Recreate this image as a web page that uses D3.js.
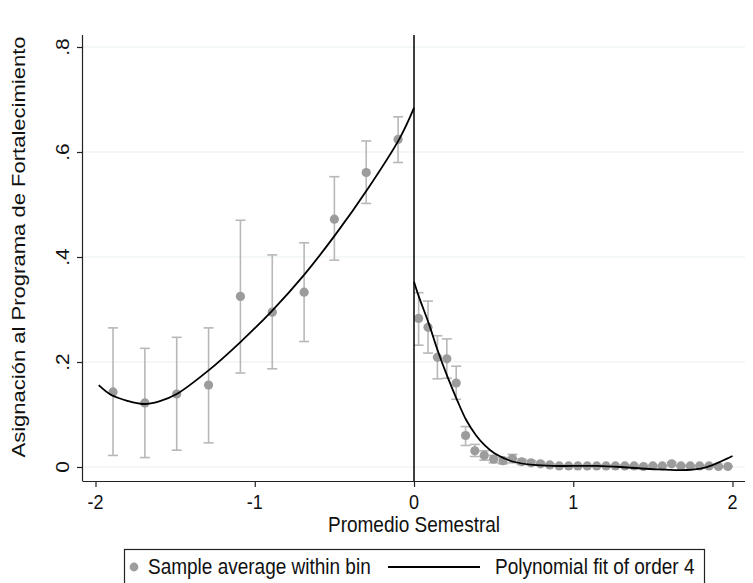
<!DOCTYPE html>
<html>
<head>
<meta charset="utf-8">
<script src="https://cdn.jsdelivr.net/npm/d3@7"></script>
<style>
  html, body { margin: 0; padding: 0; background: #fff; }
  svg { display: block; font-family: "Liberation Sans", Arial, sans-serif; }
</style>
</head>
<body>
<svg id="chart" width="753" height="583"></svg>
<script>
// ---------- data ----------
const xTicks = [-2, -1, 0, 1, 2];
const xTickLabels = ["-2", "-1", "0", "1", "2"];
const yTicks = [0, 0.2, 0.4, 0.6, 0.8];
const yTickLabels = ["0", ".2", ".4", ".6", ".8"];

// bin averages left of cutoff
const leftX  = [-1.89, -1.69, -1.49, -1.29, -1.09, -0.89, -0.69, -0.50, -0.30, -0.10];
const leftY  = [0.143, 0.122, 0.139, 0.156, 0.325, 0.295, 0.333, 0.472, 0.561, 0.624];
const leftLo = [0.022, 0.018, 0.032, 0.046, 0.179, 0.187, 0.239, 0.394, 0.502, 0.580];
const leftHi = [0.265, 0.226, 0.247, 0.265, 0.470, 0.404, 0.427, 0.553, 0.621, 0.667];

// bin averages right of cutoff
const rightX = [0.029, 0.088, 0.147, 0.206, 0.265, 0.324, 0.382, 0.441, 0.500, 0.559,
                0.618, 0.676, 0.735, 0.794, 0.853, 0.912, 0.971, 1.029, 1.088, 1.147,
                1.206, 1.265, 1.324, 1.382, 1.441, 1.500, 1.559, 1.618, 1.676, 1.735,
                1.794, 1.853, 1.912, 1.971];
const rightY = [0.283, 0.266, 0.209, 0.206, 0.160, 0.060, 0.031, 0.022, 0.015, 0.012,
                0.016, 0.010, 0.008, 0.006, 0.004, 0.002, 0.002, 0.002, 0.002, 0.002,
                0.002, 0.002, 0.002, 0.002, 0.001, 0.002, 0.002, 0.006, 0.002, 0.002,
                0.002, 0.002, 0.001, 0.001];
const rightLo = [0.232, 0.217, 0.168, 0.169, 0.129, 0.041, 0.020, 0.013, 0.008, 0.006,
                 0.008, 0.005, 0.004, 0.003, 0.002, 0.001, 0.001, 0.001, 0.001, 0.001,
                 0.001, 0.001, 0.001, 0.001, 0.000, 0.001, 0.001, 0.003, 0.001, 0.001,
                 0.001, 0.001, 0.000, 0.000];
const rightHi = [0.332, 0.316, 0.250, 0.244, 0.192, 0.077, 0.043, 0.031, 0.022, 0.018,
                 0.024, 0.015, 0.012, 0.009, 0.006, 0.003, 0.003, 0.003, 0.003, 0.003,
                 0.003, 0.003, 0.003, 0.003, 0.002, 0.003, 0.003, 0.009, 0.003, 0.003,
                 0.003, 0.003, 0.002, 0.002];

// polynomial fit (order 4)
const fitLeftX = [-1.98, -1.90, -1.80, -1.70, -1.60, -1.49, -1.29, -1.09, -0.89, -0.69, -0.49, -0.29, -0.09, 0.0];
const fitLeftY = [0.156, 0.137, 0.126, 0.120, 0.125, 0.139, 0.184, 0.238, 0.298, 0.366, 0.444, 0.530, 0.626, 0.684];
const fitRightX = [0.0, 0.03, 0.092, 0.151, 0.21, 0.27, 0.327, 0.388, 0.445, 0.505, 0.564, 0.625, 0.75, 0.87, 1.0, 1.15, 1.3, 1.5, 1.68, 1.8, 1.87, 1.93, 2.0];
const fitRightY = [0.353, 0.325, 0.274, 0.220, 0.172, 0.128, 0.090, 0.061, 0.041, 0.026, 0.017, 0.010, 0.004, 0.002, 0.002, 0.002, 0.000, -0.004, -0.006, -0.003, 0.003, 0.011, 0.021];

const xTitle = "Promedio Semestral";
const yTitle = "Asignación al Programa de Fortalecimiento";
const legendLabels = ["Sample average within bin", "Polynomial fit of order 4"];

// ---------- drawing ----------
const svg = d3.select("#chart");
const plotL = 83, plotR = 745, plotT = 35, plotB = 481;
const x = d3.scaleLinear().domain([-2, 2]).range([95.5, 732.5]);
const y = d3.scaleLinear().domain([0, 0.8]).range([467, 47]);
const stretch = 1.16;   // glyphs in the reference are taller than wide
const txtColor = "#111";

const dotColor = "#9c9c9c";
const ciColor = "#b8b8b8";

// text helpers (horizontal and rotated, with vertical stretch)
function hText(px, py, str, size, anchor) {
  const g = svg.append("g").attr("transform", `translate(${px},${py}) scale(1,${stretch})`);
  g.append("text").attr("x", 0).attr("y", 0).attr("text-anchor", anchor)
    .style("font-size", size + "px").attr("fill", txtColor).text(str);
}
function vText(px, py, str, size) {
  const g = svg.append("g").attr("transform", `translate(${px},${py}) scale(1,${stretch}) rotate(-90)`);
  g.append("text").attr("x", 0).attr("y", 0).attr("text-anchor", "middle")
    .style("font-size", size + "px").attr("fill", txtColor).text(str);
}

// gridlines
svg.append("g").selectAll("line").data(yTicks).join("line")
  .attr("x1", plotL).attr("x2", plotR)
  .attr("y1", d => y(d)).attr("y2", d => y(d))
  .attr("stroke", "#e9f0f2").attr("stroke-width", 1.2);

// axes (lines + ticks via d3 axes, labels placed with stretch)
const xAxis = d3.axisBottom(x).tickValues(xTicks).tickSize(6).tickFormat("");
const gx = svg.append("g").attr("transform", `translate(0,${plotB})`).call(xAxis);
gx.select(".domain").remove();
gx.append("line").attr("x1", plotL).attr("x2", plotR).attr("y1", 0.5).attr("y2", 0.5)
  .attr("stroke", "#222").attr("stroke-width", 1.2);
gx.selectAll(".tick line").attr("stroke", "#222").attr("stroke-width", 1.2);
xTicks.forEach((t, i) => hText(x(t), 509, xTickLabels[i], 18, "middle"));

const yAxis = d3.axisLeft(y).tickValues(yTicks).tickSize(6).tickFormat("");
const gy = svg.append("g").attr("transform", `translate(${plotL},0)`).call(yAxis);
gy.select(".domain").remove();
gy.append("line").attr("x1", -0.5).attr("x2", -0.5).attr("y1", plotT).attr("y2", plotB + 0.5)
  .attr("stroke", "#222").attr("stroke-width", 1.2);
gy.selectAll(".tick line").attr("stroke", "#222").attr("stroke-width", 1.2);
yTicks.forEach((t, i) => vText(69, y(t), yTickLabels[i], 18));

// error bars
function drawCI(xs, lo, hi) {
  const g = svg.append("g").attr("stroke", ciColor).attr("stroke-width", 1.6);
  const idx = d3.range(xs.length);
  g.selectAll("line.v").data(idx).join("line").attr("class", "v")
    .attr("x1", i => x(xs[i])).attr("x2", i => x(xs[i]))
    .attr("y1", i => y(lo[i])).attr("y2", i => y(hi[i]));
  g.selectAll("line.lo").data(idx).join("line").attr("class", "lo")
    .attr("x1", i => x(xs[i]) - 5).attr("x2", i => x(xs[i]) + 5)
    .attr("y1", i => y(lo[i])).attr("y2", i => y(lo[i]));
  g.selectAll("line.hi").data(idx).join("line").attr("class", "hi")
    .attr("x1", i => x(xs[i]) - 5).attr("x2", i => x(xs[i]) + 5)
    .attr("y1", i => y(hi[i])).attr("y2", i => y(hi[i]));
}
drawCI(leftX, leftLo, leftHi);
drawCI(rightX, rightLo, rightHi);

// dots
function drawDots(xs, ys) {
  svg.append("g").selectAll("circle").data(d3.range(xs.length)).join("circle")
    .attr("cx", i => x(xs[i])).attr("cy", i => y(ys[i])).attr("r", 4.6)
    .attr("fill", dotColor);
}
drawDots(leftX, leftY);
drawDots(rightX, rightY);

// cutoff line
svg.append("line").attr("x1", x(0)).attr("x2", x(0)).attr("y1", plotT).attr("y2", plotB)
  .attr("stroke", "#000").attr("stroke-width", 1.5);

// fits
const line = d3.line().x(d => x(d[0])).y(d => y(d[1])).curve(d3.curveCatmullRom.alpha(0.5));
svg.append("path").datum(d3.zip(fitLeftX, fitLeftY)).attr("d", line)
  .attr("fill", "none").attr("stroke", "#000").attr("stroke-width", 1.8);
svg.append("path").datum(d3.zip(fitRightX, fitRightY)).attr("d", line)
  .attr("fill", "none").attr("stroke", "#000").attr("stroke-width", 1.8);

// titles
hText(x(0), 532, xTitle, 19, "middle");
vText(25, 247, yTitle, 19);

// legend
const lg = svg.append("g");
lg.append("rect").attr("x", 124.5).attr("y", 549.5).attr("width", 580).attr("height", 50)
  .attr("fill", "#fff").attr("stroke", "#222").attr("stroke-width", 1.2);
lg.append("circle").attr("cx", 134).attr("cy", 567).attr("r", 4.4).attr("fill", dotColor);
hText(148, 574, legendLabels[0], 19, "start");
lg.append("line").attr("x1", 388).attr("x2", 480).attr("y1", 567).attr("y2", 567)
  .attr("stroke", "#000").attr("stroke-width", 1.8);
hText(495, 574, legendLabels[1], 19, "start");
</script>
</body>
</html>
